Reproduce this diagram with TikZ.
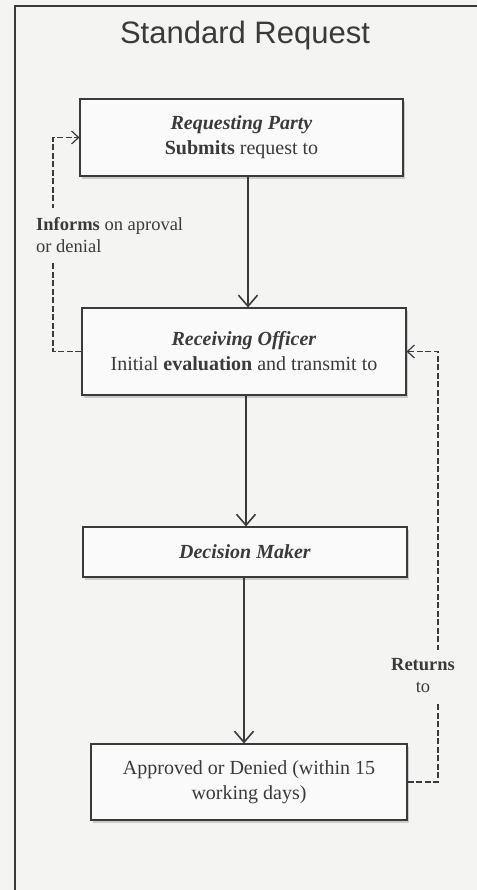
\documentclass[tikz,border=0pt]{standalone}
\usepackage{fontspec}
\setmainfont{Liberation Serif}
\newfontfamily\titlefont{Liberation Sans}
\usetikzlibrary{arrows.meta,shadows}
\definecolor{paper}{RGB}{244,244,243}
\definecolor{ink}{RGB}{58,58,58}

\begin{document}
\begin{tikzpicture}[x=1pt,y=-1pt]
            \tikzstyle{every node}+=[inner sep=0pt,text=ink]
            \tikzstyle{stage}=[draw=ink,line width=1.1pt,fill=white!55!paper,align=center,
                font=\fontsize{20}{25}\selectfont,
                drop shadow={opacity=0.35,shadow xshift=2pt,shadow yshift=-3pt}]
            \tikzstyle{flow}=[ink,line width=1.6pt,-{Straight Barb[length=11pt,width=19pt,line width=1.6pt]}]
            \tikzstyle{back}=[ink,line width=1.2pt,dash pattern=on 6pt off 2.5pt,
                -{Straight Barb[length=7pt,width=13pt,line width=1.2pt]}]
            \tikzstyle{note}=[fill=paper,inner ysep=9pt,font=\fontsize{18.5}{22}\selectfont]
            \useasboundingbox (0,0) rectangle (476,890);
            \fill [paper] (-6,-6) rectangle (482,896);
            \draw [ink,line width=1.2pt] (15,896) -- (15,6) -- (482,6);
            \node [font=\titlefont\fontsize{31}{34}\selectfont] (title) at (245,35) {Standard Request};
            \node [stage,minimum width=323pt,minimum height=77pt] (party) at (241.5,137.5)
                {\textbf{\textit{Requesting Party}}\\\textbf{Submits} request to};
            \node [stage,minimum width=324pt,minimum height=87pt] (officer) at (244,351.5)
                {\textbf{\textit{Receiving Officer}}\\Initial \textbf{evaluation} and transmit to};
            \node [stage,minimum width=324pt,minimum height=50pt] (maker) at (245,552)
                {\textbf{\textit{Decision Maker}}};
            \node [stage,minimum width=316pt,minimum height=76pt] (result) at (249,782)
                {Approved or Denied (within 15\\working days)};
            \coordinate (a1) at (248,0);
            \coordinate (a2) at (246,0);
            \coordinate (a3) at (244,0);
            \draw [flow] (party.south -| a1) -- (officer.north -| a1);
            \draw [flow] (officer.south -| a2) -- (maker.north -| a2);
            \draw [flow] (maker.south -| a3) -- (result.north -| a3);
            \coordinate (lx) at (53,0);
            \coordinate (rx) at (438,0);
            \draw [back] (officer.west) -| (lx |- party.west) -- (party.west);
            \draw [back] (result.east) -| (rx |- officer.east) -- (officer.east);
            \node [note,align=left,anchor=west] (informs) at (36,235) {\textbf{Informs} on aproval\\or denial};
            \node [note,align=center] (returns) at (423,676) {\textbf{Returns}\\to};
\end{tikzpicture}
\end{document}
